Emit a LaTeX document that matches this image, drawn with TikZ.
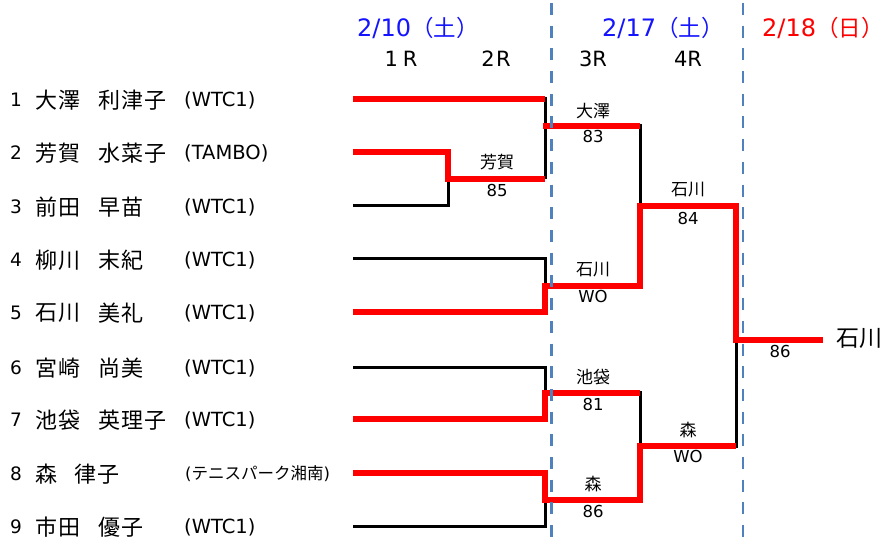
\documentclass[tikz,border=0pt]{standalone}
\usepackage{fontspec}
\setmainfont{DejaVu Sans}
\newfontfamily\jp[LetterSpace=5]{Noto Sans CJK JP}
\newfontfamily\jpn{Noto Sans CJK JP}
\definecolor{hdrblue}{RGB}{20,20,255}
\definecolor{hdrred}{RGB}{255,0,0}
\definecolor{winred}{RGB}{255,0,0}
\definecolor{dashblue}{RGB}{79,129,189}
\tikzset{
  num/.style={anchor=west, inner sep=0pt, font=\fontsize{18.5bp}{22bp}\selectfont},
  nm/.style={anchor=west, inner sep=0pt, font=\jp\fontsize{22bp}{26bp}\selectfont},
  club/.style={anchor=west, inner sep=0pt, font=\fontsize{19.5bp}{22bp}\selectfont},
  clubsm/.style={anchor=west, inner sep=0pt, font=\fontsize{16.5bp}{20bp}\selectfont},
  lab/.style={inner sep=0pt, font=\jpn\fontsize{17bp}{20bp}\selectfont},
  score/.style={inner sep=0pt, font=\fontsize{16.5bp}{20bp}\selectfont},
  hdr/.style={anchor=base west, inner sep=0pt, font=\fontsize{24bp}{28bp}\selectfont},
  rnd/.style={anchor=base, inner sep=0pt, font=\fontsize{21bp}{24bp}\selectfont},
  champ/.style={anchor=west, inner sep=0pt, font=\jpn\fontsize{23bp}{26bp}\selectfont},
  bline/.style={line width=3bp, black, line join=miter},
  rline/.style={line width=6bp, winred, line join=miter},
  dline/.style={line width=2.8bp, dashblue, dash pattern=on 12bp off 10.7bp},
}
\newcommand{\hjp}[1]{{\jpn\fontsize{22.5bp}{28bp}\selectfont #1}}
\begin{document}
\begin{tikzpicture}[x=1bp, y=-1bp]
\fill[white] (0,0) rectangle (884,540);
\useasboundingbox (0,0) rectangle (884,540);

% ---------- headers ----------
\node[hdr, text=hdrblue] (h1) at (357,37) {2/10\hjp{（土）}};
\node[hdr, text=hdrblue] (h2) at (602,37) {2/17\hjp{（土）}};
\node[hdr, text=hdrred] (h3) at (762,37) {2/18\hjp{（日）}};
\node[rnd] (r1) at (401,67) {1\hspace{5bp}R};
\node[rnd] (r2) at (496,67) {2\hspace{1.5bp}R};
\node[rnd] (r3) at (593,67) {3R};
\node[rnd] (r4) at (688,67) {4R};

% ---------- players ----------
\node[num] (n1) at (10,100) {1};
\node[nm] (sa1) at (35,100) {大澤};
\node[nm] (ga1) at (98,100) {利津子};
\node[club] (c1t) at (184,100) {(WTC1)};

\node[num] (n2) at (10,153) {2};
\node[nm] (sa2) at (35,153) {芳賀};
\node[nm] (ga2) at (98,153) {水菜子};
\node[club] (c2t) at (184,153) {(TAMBO)};

\node[num] (n3) at (10,207) {3};
\node[nm] (sa3) at (35,207) {前田};
\node[nm] (ga3) at (98,207) {早苗};
\node[club] (c3t) at (184,207) {(WTC1)};

\node[num] (n4) at (10,260) {4};
\node[nm] (sa4) at (35,260) {柳川};
\node[nm] (ga4) at (98,260) {末紀};
\node[club] (c4t) at (184,260) {(WTC1)};

\node[num] (n5) at (10,313) {5};
\node[nm] (sa5) at (35,313) {石川};
\node[nm] (ga5) at (98,313) {美礼};
\node[club] (c5t) at (184,313) {(WTC1)};

\node[num] (n6) at (10,368) {6};
\node[nm] (sa6) at (35,368) {宮崎};
\node[nm] (ga6) at (98,368) {尚美};
\node[club] (c6t) at (184,368) {(WTC1)};

\node[num] (n7) at (10,420) {7};
\node[nm] (sa7) at (35,420) {池袋};
\node[nm] (ga7) at (98,420) {英理子};
\node[club] (c7t) at (184,420) {(WTC1)};

\node[num] (n8) at (10,474) {8};
\node[nm] (sa8) at (35,474) {森};
\node[nm] (ga8) at (74,474) {律子};
\node[clubsm] (c8t) at (185,474) {({\jpn\fontsize{16.5bp}{20bp}\selectfont テニスパーク湘南})};

\node[num] (n9) at (10,527) {9};
\node[nm] (sa9) at (35,527) {市田};
\node[nm] (ga9) at (98,527) {優子};
\node[club] (c9t) at (184,527) {(WTC1)};

% ---------- bracket coordinates ----------
\coordinate (s1) at (353,99);
\coordinate (s2) at (353,152);
\coordinate (s3) at (353,206);
\coordinate (s4) at (353,259);
\coordinate (s5) at (353,312);
\coordinate (s6) at (353,367);
\coordinate (s7) at (353,419);
\coordinate (s8) at (353,473);
\coordinate (s9) at (353,526);

\coordinate (a1) at (545,99);
\coordinate (a2) at (448,152);
\coordinate (a3) at (448,206);
\coordinate (m23) at (448,179);
\coordinate (o23) at (545,179);
\coordinate (b1) at (543,126);
\coordinate (c1) at (640,126);

\coordinate (a4) at (545,259);
\coordinate (a5) at (545,312);
\coordinate (m45) at (545,286.5);
\coordinate (c45) at (640,286.5);

\coordinate (a6) at (545,367);
\coordinate (a7) at (545,419);
\coordinate (m67) at (545,392.5);
\coordinate (c67) at (640,392.5);

\coordinate (a8) at (545,473);
\coordinate (a9) at (545,526);
\coordinate (m89) at (545,499.5);
\coordinate (c89) at (640,499.5);

\coordinate (d1) at (640,206);
\coordinate (e1) at (736,206);
\coordinate (d2) at (640,446);
\coordinate (e2) at (736,446);
\coordinate (f) at (736,339.5);
\coordinate (g) at (823,339.5);

% ---------- black bracket ----------
\draw[bline] (s1) -- (a1) -- (o23);
\draw[bline] (s2) -- (a2) -- (a3) -- (s3);
\draw[bline] (m23) -- (o23);
\draw[bline] (b1) -- (c1) -- (c45) -- (m45);
\draw[bline] (s4) -- (a4) -- (a5) -- (s5);
\draw[bline] (s6) -- (a6) -- (a7) -- (s7);
\draw[bline] (m67) -- (c67) -- (c89) -- (m89);
\draw[bline] (s8) -- (a8) -- (a9) -- (s9);
\draw[bline] (d1) -- (e1) -- (e2) -- (d2);
\draw[bline] (f) -- (g);

% ---------- winners (red) ----------
\draw[rline] (s1) -- (a1);
\draw[rline] (s2) -- (a2) -- (m23) -- (o23);
\draw[rline] (b1) -- (c1);
\draw[rline] (s5) -- (a5) -- (m45) -- (c45) -- (d1) -- (e1) -- (f) -- (g);
\draw[rline] (s7) -- (a7) -- (m67) -- (c67);
\draw[rline] (s8) -- (a8) -- (m89) -- (c89) -- (d2) -- (e2);

% ---------- match labels ----------
\node[lab] (l23) at (497,162.5) {芳賀};
\node[score] (sc23) at (497,190) {85};
\node[lab] (l12) at (593,111) {大澤};
\node[score] (sc12) at (593,136.5) {83};
\node[lab] (l45) at (593,270) {石川};
\node[score] (sc45) at (593,296.5) {WO};
\node[lab] (l67) at (593,377) {池袋};
\node[score] (sc67) at (593,404) {81};
\node[lab] (l89) at (593,484) {森};
\node[score] (sc89) at (593,511.5) {86};
\node[lab] (lq1) at (688,190) {石川};
\node[score] (scq1) at (688,218.5) {84};
\node[lab] (lq2) at (688,430.5) {森};
\node[score] (scq2) at (688,456.5) {WO};
\node[score] (scf) at (780,351.5) {86};
\node[champ] (win) at (836,338) {石川};

% ---------- day separators ----------
\coordinate (t1) at (551.3,3);
\coordinate (u1) at (551.3,540);
\coordinate (t2) at (743,3);
\coordinate (u2) at (743,540);
\draw[dline] (t1) -- (u1);
\draw[dline] (t2) -- (u2);
\end{tikzpicture}
\end{document}
